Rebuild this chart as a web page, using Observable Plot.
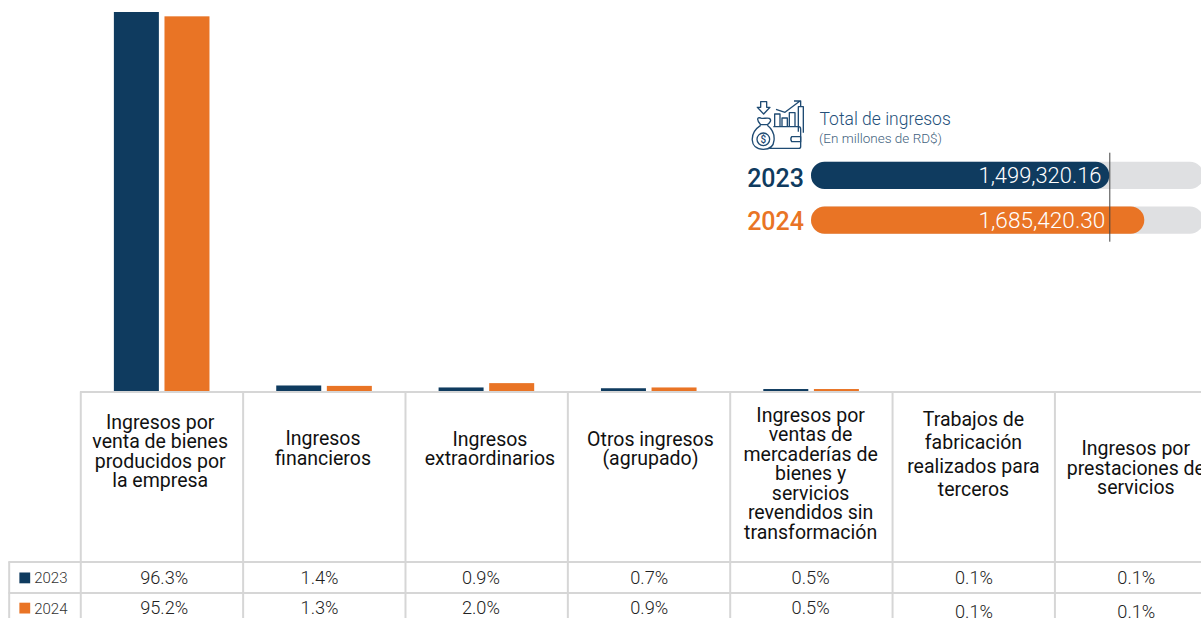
<!DOCTYPE html>
<html lang="es">
<head>
<meta charset="utf-8">
<script src="https://cdn.jsdelivr.net/npm/d3@7"></script>
<script src="https://cdn.jsdelivr.net/npm/@observablehq/plot@0.6"></script>
<style>
html,body{margin:0;padding:0;background:#fff;overflow:hidden}
#wrap{position:relative;width:1201px;height:618px;overflow:hidden}
#wrap svg{position:absolute;overflow:hidden;max-width:none}
</style>
</head>
<body>
<div id="wrap"></div>
<script>
// ---------- data ----------
const categories = [
  "Ingresos por\nventa de bienes\nproducidos por\nla empresa",
  "Ingresos\nfinancieros",
  "Ingresos\nextraordinarios",
  "Otros ingresos\n(agrupado)",
  "Ingresos por\nventas de\nmercaderías de\nbienes y\nservicios\nrevendidos sin\ntransformación",
  "Trabajos de\nfabricación\nrealizados para\nterceros",
  "Ingresos por\nprestaciones de\nservicios"
];
const values2023 = [96.3, 1.4, 0.9, 0.7, 0.5, 0.1, 0.1];
const values2024 = [95.2, 1.3, 2.0, 0.9, 0.5, 0.1, 0.1];
const years = ["2023", "2024"];
const totals = [1499320.16, 1685420.30];
const totalLabels = ["1,499,320.16", "1,685,420.30"];

// ---------- style / layout ----------
const BLUE = "#0f3b5f", ORANGE = "#e97425", GRID = "#d6d6d6", TRACK = "#dfe0e2";
const FONT = "Roboto, sans-serif";
const headDx = [-2, -1.5, 3, 1.2, -1, -0.5, -0.5];
const headMid = [451, 448, 448.5, 448.5, 473.5, 453, 468];
const headLine = [19.5, 19.5, 19.5, 19.5, 19.5, 23.4, 19.5];
const valDx = [2, -5, -6, 0, -1, 0, 0];
const row1Mid = [578, 578, 578, 578, 578, 578, 578];
const row2Mid = [608, 608, 608, 608, 608, 612, 612];
const yearDy = [3, 1];

const rows = categories.flatMap((c, i) => [
  {cat: c, year: "2023", v: values2023[i]},
  {cat: c, year: "2024", v: values2024[i]}
]);
// the 0.1% columns have no visible bar in the chart
const visibleRows = rows.filter(d => d.v > 0.1);

// y scale: 96.3% reaches pixel 12 from baseline pixel 391
const perUnit = 379 / 96.3;
const yAt = px => (391 - px) / perUnit;

const barOpts = {x: "cat", y: "v", insetLeft: 58.68, insetRight: 58.68};

const chart = Plot.plot({
  width: 1201, height: 618,
  marginTop: 0, marginRight: 0, marginBottom: 0, marginLeft: 0,
  style: {fontFamily: FONT, background: "transparent"},
  x: {type: "band", domain: categories, range: [80.5, 1217], padding: 0, round: false, axis: null},
  y: {domain: [yAt(618), yAt(0)], range: [618, 0], axis: null},
  marks: [
    Plot.barY(visibleRows.filter(d => d.year === "2023"), {...barOpts, fill: BLUE, dx: -25.3}),
    Plot.barY(visibleRows.filter(d => d.year === "2024"), {...barOpts, fill: ORANGE, dx: 25.3}),
    // table rules
    Plot.ruleY([yAt(391.5)], {stroke: GRID, strokeWidth: 2, insetLeft: 80}),
    Plot.ruleY([yAt(561.5), yAt(592.5)], {stroke: GRID, strokeWidth: 2, insetLeft: 8.5}),
    Plot.ruleX(categories, {x: d => d, dx: -81.4, y1: yAt(391.5), y2: yAt(618), stroke: GRID, strokeWidth: 2}),
    Plot.ruleX([categories[0]], {x: d => d, dx: -153, y1: yAt(561.5), y2: yAt(618), stroke: GRID, strokeWidth: 2}),
    // column headers
    ...categories.map((c, i) => Plot.text([c], {
      x: d => d, y: () => yAt(headMid[i]), text: d => d, dx: headDx[i],
      fontSize: 19.5, lineHeight: headLine[i] / 19.5, lineAnchor: "middle", fill: "#111", fontWeight: 400
    })),
    // percentages
    ...categories.flatMap((c, i) => [
      Plot.text([values2023[i]], {x: () => c, y: () => yAt(row1Mid[i]), text: d => d.toFixed(1) + "%", dx: valDx[i],
        fontSize: 18.2, fontWeight: 300, fill: "#222", lineAnchor: "middle"}),
      Plot.text([values2024[i]], {x: () => c, y: () => yAt(row2Mid[i]), text: d => d.toFixed(1) + "%", dx: valDx[i],
        fontSize: 18.2, fontWeight: 300, fill: "#222", lineAnchor: "middle"})
    ]),
    // row keys
    ...years.map((yr, i) => [
      Plot.dot([yr], {x: () => categories[0], y: () => yAt([577.4, 607.6][i]), dx: -137.4, symbol: "square", r: 6.1,
        fill: [BLUE, ORANGE][i], stroke: "none"}),
      Plot.text([yr], {x: () => categories[0], y: () => yAt([578, 608.5][i]), text: d => d, dx: -128, textAnchor: "start",
        fontSize: 15, fontWeight: 300, fill: "#333", lineAnchor: "middle"})
    ]).flat()
  ]
});
chart.style.left = "0"; chart.style.top = "0";
document.getElementById("wrap").append(chart);

// ---------- total panel ----------
const floorValue = -86780, trackEnd = 2000000;
const totalRows = years.map((y, i) => ({year: y, total: totals[i], label: totalLabels[i]}));
const iconMark = () => {
  const g = d3.create("svg:g")
    .attr("transform", "translate(-5,-5) scale(0.3333)")
    .attr("fill", "none").attr("stroke", "#1f4b73").attr("stroke-width", 4).attr("stroke-linejoin", "round");
  [
    "M62,35H80V52H90L71,72L52,52H62Z",
    "M62,104C50,92 50,80 62,84C70,88 78,82 88,85C96,90 90,98 82,104Z",
    "M62,106C28,128 26,178 70,178C112,178 110,128 82,106",
    "M100,110H176Q182,110 182,118V170Q182,175 176,175H88",
    "M155,140H182V155H155Q150,147 155,140Z",
    "M104,108V72H120V108M126,108V84H142V108M148,108V68H165V108",
    "M175,125V50H190V128",
    "M108,58L135,67L180,33M162,33H182V50"
  ].forEach(d => g.append("path").attr("d", d));
  g.append("circle").attr("cx", 70).attr("cy", 148).attr("r", 19);
  g.append("text").attr("x", 70).attr("y", 158).attr("text-anchor", "middle")
    .attr("fill", "#1f4b73").attr("stroke", "none").attr("font-size", 30).attr("font-weight", 500).text("$");
  return g.node();
};

const panel = Plot.plot({
  width: 456, height: 150,
  marginTop: 0, marginRight: 0, marginBottom: 0, marginLeft: 0,
  style: {fontFamily: FONT, background: "transparent"},
  x: {domain: [floorValue, 1685420.30], range: [66, 399.3], axis: null},
  y: {type: "band", domain: years, range: [66.7, 138.7], paddingInner: 0.389, paddingOuter: 0, round: false, axis: null},
  marks: [
    Plot.barX(totalRows, {x1: () => floorValue, x2: () => trackEnd, y: "year", fill: TRACK, rx: 13.6}),
    Plot.barX(totalRows, {x1: () => floorValue, x2: "total", y: "year", fill: d => d.year === "2023" ? BLUE : ORANGE, rx: 13.6}),
    ...totalRows.map((r, i) => Plot.text([r], {x: () => floorValue, y: "year", text: "label", dx: 167, textAnchor: "start",
      fill: "white", fontSize: [21.9, 22.6][i], fontWeight: 300})),
    ...totalRows.map((r, i) => Plot.text([r], {x: () => floorValue, y: "year", text: "year", dx: -7.5, dy: yearDy[i], textAnchor: "end",
      fill: [BLUE, ORANGE][i], fontSize: 25, fontWeight: 500})),
    Plot.ruleX([totals[0]], {y1: () => "2023", y2: () => "2024", stroke: "#444", strokeWidth: 1, insetTop: -9, insetBottom: -8}),
    Plot.text(["Total de ingresos"], {frameAnchor: "top-left", dx: 74, dy: 17, text: d => d, textAnchor: "start",
      lineAnchor: "top", fill: "#24507a", fontSize: 17.5, fontWeight: 300}),
    Plot.text(["(En millones de RD$)"], {frameAnchor: "top-left", dx: 73.5, dy: 38, text: d => d, textAnchor: "start",
      lineAnchor: "top", fill: "#3f5f7d", fontSize: 13.5, fontWeight: 300}),
    iconMark
  ]
});
panel.style.left = "745px"; panel.style.top = "95px";
document.getElementById("wrap").append(panel);
</script>
</body>
</html>
